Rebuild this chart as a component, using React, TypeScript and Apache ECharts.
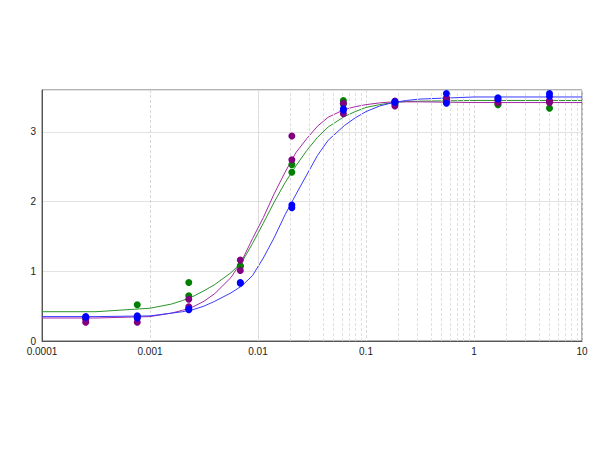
import React, { useEffect, useRef } from "react";
import * as echarts from "echarts";

// Dilution series concentrations (x)
const concentrations = [0.000254, 0.000762, 0.002286, 0.006859, 0.02058, 0.06173, 0.1852, 0.5556, 1.667, 5];

// Replicate measurements
const greenRep1 = [0.34, 0.52, 0.84, 1.08, 2.53, 3.45, 3.41, 3.47, 3.4, 3.43];
const greenRep2 = [0.33, 0.35, 0.65, 1.07, 2.42, 3.4, 3.4, 3.46, 3.39, 3.34];
const purpleRep1 = [0.31, 0.34, 0.6, 1.16, 2.94, 3.41, 3.44, 3.49, 3.45, 3.45];
const purpleRep2 = [0.27, 0.27, 0.49, 1.01, 2.6, 3.26, 3.37, 3.45, 3.42, 3.42];
const blueRep1 = [0.35, 0.36, 0.46, 0.84, 1.95, 3.33, 3.43, 3.55, 3.49, 3.55];
const blueRep2 = [0.34, 0.33, 0.45, 0.83, 1.91, 3.31, 3.42, 3.41, 3.47, 3.51];

// Fitted curves at these concentrations
const curveX = [
  0.0001, 0.000316, 0.001, 0.00158, 0.002, 0.00251, 0.00316, 0.00398, 0.00562, 0.00708, 0.00891,
  0.0112, 0.0141, 0.0178, 0.0224, 0.0282, 0.0355, 0.0447, 0.0631, 0.0794, 0.1, 0.1334, 0.178,
  0.237, 0.316, 1, 10,
];
const greenCurve = [
  0.42, 0.42, 0.47, 0.53, 0.58, 0.64, 0.72, 0.81, 0.98, 1.13, 1.4, 1.69, 1.99, 2.27, 2.51, 2.73,
  2.92, 3.07, 3.22, 3.29, 3.35, 3.39, 3.42, 3.435, 3.44, 3.45, 3.45,
];
const purpleCurve = [
  0.33, 0.33, 0.35, 0.4, 0.44, 0.49, 0.57, 0.68, 0.91, 1.15, 1.47, 1.77, 2.11, 2.42, 2.7, 2.9,
  3.08, 3.21, 3.32, 3.36, 3.39, 3.415, 3.43, 3.43, 3.43, 3.42, 3.42,
];
const blueCurve = [
  0.35, 0.35, 0.36, 0.4, 0.42, 0.45, 0.5, 0.57, 0.69, 0.79, 0.94, 1.19, 1.48, 1.81, 2.1, 2.38,
  2.66, 2.88, 3.09, 3.2, 3.29, 3.37, 3.42, 3.45, 3.47, 3.5, 3.5,
];

const xTickLabels = ["0.0001", "0.001", "0.01", "0.1", "1", "10"];
const yTickLabels = ["0", "1", "2", "3"];

const GREEN = "#008000";
const PURPLE = "#800080";
const BLUE = "#0000ff";

function pairs(xs: number[], ys: number[]) {
  return xs.map((x, i) => [x, ys[i]]);
}

export default function App() {
  const ref = useRef<HTMLDivElement>(null);
  useEffect(() => {
    const chart = echarts.init(ref.current!, null, { renderer: "svg" });
    const minorLines: { xAxis: number }[] = [];
    for (let k = -4; k <= 0; k++) {
      for (let m = 2; m <= 9; m++) {
        minorLines.push({ xAxis: m * Math.pow(10, k) });
      }
    }
    const font = { fontFamily: "Liberation Sans, Arial, sans-serif", fontSize: 10, color: "#222" };
    const curve = (data: number[], color: string) => ({
      type: "line",
      data: pairs(curveX, data),
      showSymbol: false,
      symbol: "none",
      smooth: false,
      lineStyle: { color, width: 1 },
      z: 3,
      silent: true,
    });
    const pts = (a: number[], b: number[], color: string, z: number) => ({
      type: "scatter",
      data: [...pairs(concentrations, a), ...pairs(concentrations, b)],
      symbol: "circle",
      symbolSize: 7,
      itemStyle: { color, opacity: 1 },
      z,
      silent: true,
    });
    chart.setOption({
      animation: false,
      backgroundColor: "#fff",
      grid: {
        left: 42,
        right: 18,
        top: 90,
        bottom: 109,
        show: true,
        borderColor: "#666",
        borderWidth: 1,
        backgroundColor: "transparent",
      },
      xAxis: {
        type: "log",
        logBase: 10,
        min: 0.0001,
        max: 10,
        axisLine: { show: true, lineStyle: { color: "#555" } },
        axisTick: { show: false },
        axisLabel: {
          ...font,
          margin: 5,
          formatter: (v: number) => xTickLabels[Math.round(Math.log10(v)) + 4] ?? "",
        },
        splitLine: { show: true, lineStyle: { color: "#d8d8d8", type: [3, 2], width: 1 } },
      },
      yAxis: {
        type: "value",
        min: 0,
        max: 3.6,
        interval: 1,
        axisLine: { show: true, lineStyle: { color: "#555" } },
        axisTick: { show: false },
        axisLabel: {
          ...font,
          margin: 6,
          showMaxLabel: false,
          formatter: (v: number) => yTickLabels[Math.round(v)] ?? "",
        },
        splitLine: { show: true, lineStyle: { color: "#e2e2e2", width: 1 } },
      },
      series: [
        {
          type: "scatter",
          data: [],
          z: 1,
          silent: true,
          markLine: {
            silent: true,
            symbol: "none",
            label: { show: false },
            lineStyle: { color: "#e0e0e0", type: [3, 2], width: 1 },
            data: minorLines,
          },
        },
        curve(greenCurve, "#2a942a"),
        curve(purpleCurve, "#a52aa5"),
        curve(blueCurve, "#3a3aff"),
        pts(greenRep1, greenRep2, GREEN, 5),
        pts(purpleRep1, purpleRep2, PURPLE, 6),
        pts(blueRep1, blueRep2, BLUE, 7),
      ],
    });
    return () => chart.dispose();
  }, []);
  return (
    <div
      ref={ref}
      style={{ position: "absolute", left: 0, top: 0, width: 600, height: 450 }}
    />
  );
}
